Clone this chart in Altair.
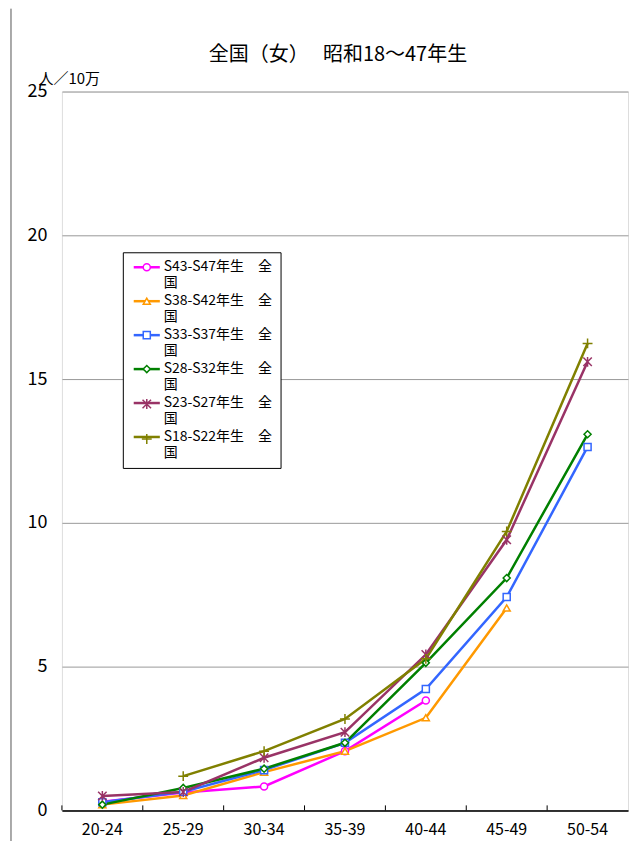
import altair as alt
import pandas as pd

ages = ["20-24", "25-29", "30-34", "35-39", "40-44", "45-49", "50-54"]
series = [
    "S43-S47年生　全国",
    "S38-S42年生　全国",
    "S33-S37年生　全国",
    "S28-S32年生　全国",
    "S23-S27年生　全国",
    "S18-S22年生　全国",
]
s43 = [0.30, 0.62, 0.83, 2.06, 3.82, None, None]
s38 = [0.20, 0.52, 1.33, 2.06, 3.22, 7.04, None]
s33 = [0.28, 0.65, 1.40, 2.35, 4.22, 7.42, 12.64]
s28 = [0.20, 0.78, 1.45, 2.35, 5.13, 8.08, 13.08]
s23 = [0.50, 0.64, 1.83, 2.72, 5.42, 9.41, 15.60]
s18 = [None, 1.19, 2.06, 3.18, 5.27, 9.70, 16.24]
values = [s43, s38, s33, s28, s23, s18]

colors = ["#FF00FF", "#FF9900", "#3366FF", "#008000", "#993366", "#808000"]
shapes = [
    "circle",
    "triangle-up",
    "square",
    "diamond",
    "M-1.2,-1.2L1.2,1.2M-1.2,1.2L1.2,-1.2M0,-1.4L0,1.4",
    "M-1.4,0L1.4,0M0,-1.4L0,1.4",
]

# marker legend uses a separate domain so it is not merged with the line legend
series_pts = [s + "." for s in series]

rows = []
for name, pname, vals in zip(series, series_pts, values):
    for a, v in zip(ages, vals):
        if v is not None:
            rows.append({"age": a, "value": v, "series": name, "series2": pname})
df = pd.DataFrame(rows)
ticks_df = pd.DataFrame({"age": ages})
frame_df = pd.DataFrame({"k": [0]})

FONT = "Noto Sans CJK JP"
label_expr = "[slice(datum.label, 0, -1), slice(datum.label, -1)]"
label_expr_pts = "[' ', ' ']"

x_enc = alt.X(
    "age:N",
    sort=ages,
    scale=alt.Scale(type="band", domain=ages, paddingInner=0, paddingOuter=0),
    axis=alt.Axis(
        title=None, labelAngle=0, labelFontSize=16, labelFont=FONT, labelColor="black",
        labelPadding=11, ticks=False, domain=True, domainColor="black", domainWidth=1.5,
        grid=False,
    ),
)
y_enc = alt.Y(
    "value:Q",
    scale=alt.Scale(domain=[0, 25], nice=False),
    axis=alt.Axis(
        values=[0, 5, 10, 15, 20, 25], title="人／10万", titleAngle=0, titleX=-24, titleY=-13,
        titleAlign="left", titleBaseline="middle", titleFontSize=15, titleFont=FONT,
        titleFontWeight="normal", titleColor="black",
        labelFontSize=18, labelFont=FONT, labelColor="black", labelPadding=15,
        ticks=False, domain=False, grid=True, gridColor="#999999", gridWidth=1,
    ),
)

lines = alt.Chart(df).mark_line(strokeWidth=2.5).encode(
    x=x_enc,
    y=y_enc,
    color=alt.Color(
        "series:N",
        scale=alt.Scale(domain=series, range=colors),
        legend=alt.Legend(
            orient="none", legendX=61, legendY=161, title=None,
            symbolType="M-3,0L3,0", symbolSize=76, symbolOffset=9,
            symbolStrokeWidth=2.5, labelFontSize=14, labelFont=FONT,
            labelColor="black", labelExpr=label_expr, labelOffset=10, rowPadding=4,
            fillColor="white", strokeColor="black", padding=8, labelLimit=300,
        ),
    ),
    detail="series:N",
)

pt_legend = alt.Legend(
    orient="none", legendX=70, legendY=161, title=None, symbolSize=50,
    symbolStrokeWidth=1.5, symbolFillColor="white", labelFontSize=14, labelFont=FONT,
    labelColor="transparent", labelExpr=label_expr_pts, labelOffset=6, rowPadding=4,
    padding=8, labelLimit=300,
)

points = alt.Chart(df).mark_point(filled=False, fill="white", size=50, strokeWidth=1.5, opacity=1).encode(
    x=alt.X("age:N", sort=ages),
    y="value:Q",
    stroke=alt.Stroke("series2:N", scale=alt.Scale(domain=series_pts, range=colors), legend=pt_legend),
    shape=alt.Shape("series2:N", scale=alt.Scale(domain=series_pts, range=shapes), legend=pt_legend),
)

ticks = alt.Chart(ticks_df).mark_rule(color="black", strokeWidth=1).encode(
    x=alt.X("age:N", sort=ages, bandPosition=0),
    y=alt.value(715),
    y2=alt.value(720),
)

frame = alt.Chart(frame_df).mark_rule(color="#555555", strokeWidth=1).encode(
    x=alt.value(-51),
    y=alt.value(-83),
    y2=alt.value(770),
)

chart = alt.layer(lines, points, ticks, frame).properties(
    width=567,
    height=720,
    title=alt.Title("全国（女）　 昭和18～47年生", fontSize=20, font=FONT, fontWeight="normal",
                    color="black", anchor="middle", offset=-57, dx=-7),
    autosize=alt.AutoSizeParams(type="none"),
    padding={"left": 54, "top": 83, "right": 4, "bottom": 30},
).configure_view(stroke="#888888", strokeWidth=1).configure(background="white")

chart.save("out.html", embed_options={"renderer": "svg", "actions": False})
